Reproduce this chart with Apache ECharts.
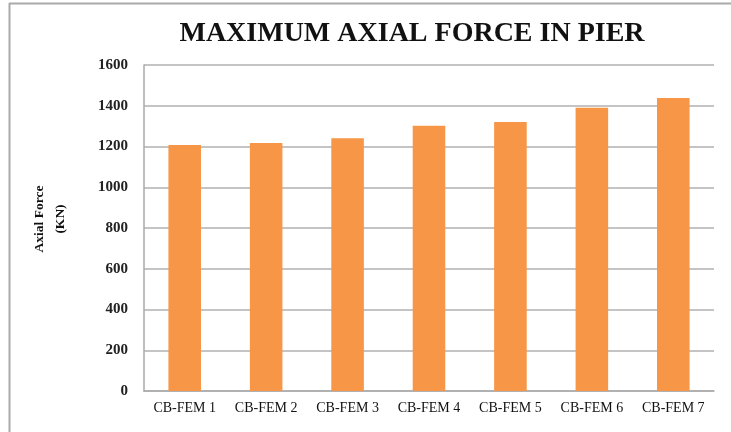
<!DOCTYPE html>
<html><head><meta charset="utf-8">
<script src="https://cdn.jsdelivr.net/npm/echarts@6/dist/echarts.min.js"></script>
<style>html,body{margin:0;padding:0;background:#fff}#c{width:731px;height:432px}</style>
</head><body><div id="c"></div>
<script>
const categories = ['CB-FEM 1','CB-FEM 2','CB-FEM 3','CB-FEM 4','CB-FEM 5','CB-FEM 6','CB-FEM 7'];
const values = [1207, 1217, 1240, 1302, 1320, 1390, 1438];
const yTicks = [0, 200, 400, 600, 800, 1000, 1200, 1400, 1600];

const chart = echarts.init(document.getElementById('c'), null, {renderer:'canvas'});
const serif = '"Liberation Serif", "DejaVu Serif", serif';
chart.setOption({
  backgroundColor: '#fff',
  animation: false,
  title: {
    text: 'MAXIMUM AXIAL FORCE IN PIER',
    left: 407, top: 15, textAlign: 'center',
    textStyle: {fontFamily: serif, fontWeight: 'bold', fontSize: 28, color: '#111'}
  },
  graphic: [
    {type:'line', shape:{x1:9.5,y1:3,x2:9.5,y2:432}, style:{stroke:'#aaa', lineWidth:2}},
    {type:'line', shape:{x1:9,y1:3.5,x2:731,y2:3.5}, style:{stroke:'#aaa', lineWidth:2}},
    {type:'text', x: 50, y: 219, rotation: Math.PI/2, style:{text:'Axial Force\n(KN)', fontFamily: serif, fontWeight:'bold', fontSize: 13.5, fill:'#111', align:'center', verticalAlign:'middle', lineHeight: 21}}
  ],
  grid: {left: 144, right: 17, top: 65, bottom: 41},
  xAxis: {
    type: 'category', data: categories,
    axisLine: {lineStyle:{color:'#aaa', width: 1.5}},
    axisTick: {show:false},
    axisLabel: {fontFamily: serif, fontSize: 14, color:'#111', margin: 10}
  },
  yAxis: {
    type: 'value', min: yTicks[0], max: yTicks[yTicks.length-1], interval: 200,
    axisLine: {show:true, lineStyle:{color:'#aaa', width: 1.5}},
    axisTick: {show:false},
    splitLine: {lineStyle:{color:'#b0b0b0', width: 1.5}},
    axisLabel: {fontFamily: serif, fontSize: 15, fontWeight: 'bold', color:'#222', margin: 16,
      formatter: v => String(v)}
  },
  series: [{
    type: 'bar', data: values, barWidth: '40%',
    itemStyle: {color: '#F79646'}
  }]
});
</script></body></html>
